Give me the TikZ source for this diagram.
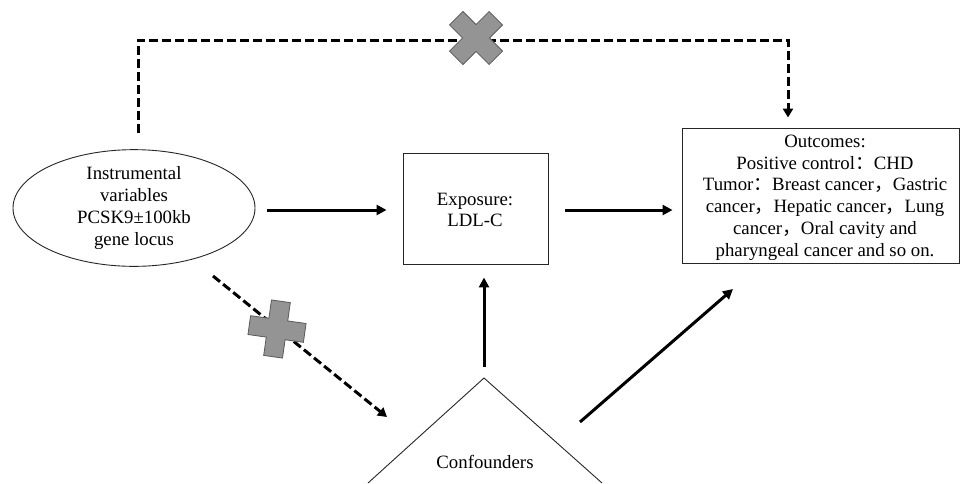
\documentclass[tikz,border=0pt]{standalone}
\usepackage{fontspec}
\setmainfont{Liberation Serif}
\newfontfamily\cjk{Noto Sans CJK SC}
\usetikzlibrary{shapes.geometric,arrows.meta}
\newcommand{\fw}[1]{{\cjk #1}}
\begin{document}
\begin{tikzpicture}[x=1pt,y=-1pt,
  every node/.style={font=\fontsize{18.8pt}{21.8pt}\selectfont, align=center, inner sep=0pt},
  boxnode/.style={draw=black!85, line width=0.9pt, rectangle},
  ellnode/.style={draw=black!85, line width=0.9pt, ellipse},
  solidarrow/.style={line width=3pt, -{Triangle[length=10pt,width=10pt]}},
  dasharrow/.style={line width=3pt, dash pattern=on 9pt off 4pt, -{Triangle[length=9pt,width=10pt]}},
  crossmark/.pic={\filldraw[fill=black!42, draw=black!65, line width=0.8pt]
     (-9.5,-28) -- (9.5,-28) -- (9.5,-9.5) -- (28,-9.5) -- (28,9.5) -- (9.5,9.5) -- (9.5,28)
     -- (-9.5,28) -- (-9.5,9.5) -- (-28,9.5) -- (-28,-9.5) -- (-9.5,-9.5) -- cycle;}
]
\useasboundingbox (0,0) rectangle (960,483);
\fill[white] (0,0) rectangle (960,483);

% nodes
\node[ellnode, minimum width=242pt, minimum height=110pt] (iv) at (134,208)
  {Instrumental\\variables\\PCSK9±100kb\\gene locus};
\node[boxnode, minimum width=145pt, minimum height=111pt] (exp) at (475.5,208.5) {};
\node (exptext) at (475,210) {Exposure:\\LDL-C};
\node[boxnode, minimum width=277pt, minimum height=135pt] (out) at (820.5,195.5) {};
\node (outtext) at (825,197.5) {Outcomes:\\Positive control\fw{：}CHD\\Tumor\fw{：}Breast cancer\fw{，}Gastric\\cancer\fw{，}Hepatic cancer\fw{，}Lung\\cancer\fw{，}Oral cavity and\\pharyngeal cancer and so on.};

% confounders triangle
\coordinate (apex) at (484,378);
\coordinate (bl) at (368,483);
\coordinate (br) at (602,483);
\draw[line width=0.9pt, black!85] (bl) -- (apex) -- (br);
\node (conf) at (485,462) {Confounders};

% helper coordinates
\coordinate (tl) at (138,40);
\coordinate (tr) at (788,40);
\coordinate (ds) at (213,276);
\coordinate (de) at (387,417);
\coordinate (cs) at (580,422);
\coordinate (ce) at (733,289);

% connectors
\draw[solidarrow, shorten <=12pt, shorten >=16pt] (iv.east |- 0,210) -- (exp.west |- 0,210);
\draw[solidarrow, shorten <=17pt, shorten >=9pt] (exp.east |- 0,210) -- (out.west |- 0,210);
\draw[solidarrow, shorten <=11pt, shorten >=13pt] (apex) -- (apex |- exp.south);
\draw[solidarrow] (cs) -- (ce);
\draw[dasharrow, shorten <=16pt, shorten >=10pt] (tl |- iv.north) -- (tl) -- (tr) -- (tr |- out.north);
\draw[dasharrow] (ds) -- (de);

% blocking marks
\pic[rotate=45] at (476,38) {crossmark};
\pic[rotate=-8] at (277,329) {crossmark};
\end{tikzpicture}
\end{document}
